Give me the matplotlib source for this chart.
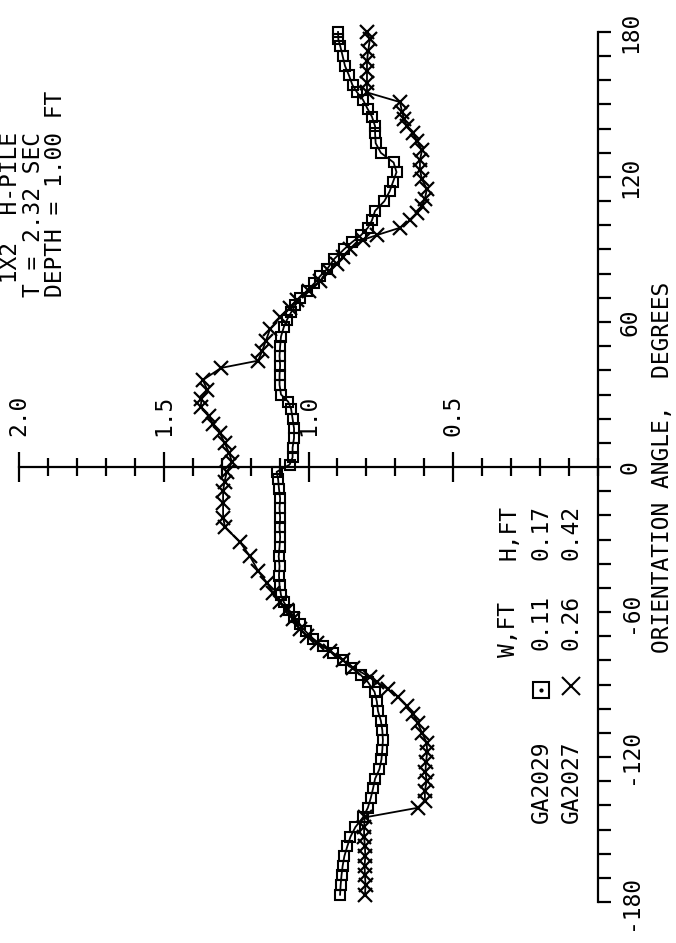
# -*- coding: utf-8 -*-
"""
1X2 H-PILE 方向角曲线复绘
原图整体逆时针旋转 90 度: 横向为数值 (2.0 在左, 0 在右), 纵向为方向角
"""

import matplotlib
matplotlib.use('Agg')
import matplotlib.pyplot as plt
from matplotlib.ticker import FixedLocator, MultipleLocator

plt.rcParams['font.family'] = ['DejaVu Sans Mono']

# GA2029 (方框)
angle_2029 = [-177, -173, -169, -165, -161, -157, -153, -149, -145, -141,
              -137, -133, -129, -125, -121, -117, -113, -109, -105, -101,
              -97, -93, -89, -86, -83, -80, -77, -74, -71, -68,
              -65, -62, -59, -56, -53, -49, -45, -41, -37, -33,
              -29, -25, -21, -17, -13, -9, -5, -2, 1, 4,
              8, 12, 16, 20, 24, 27, 30, 34, 38, 42,
              46, 50, 54, 58, 61, 64, 67, 70, 73, 76,
              79, 82, 86, 90, 93, 96, 99, 102, 106, 110,
              114, 118, 122, 126, 130, 134, 138, 141, 145, 148,
              152, 155, 158, 162, 166, 170, 174, 177, 180]
value_2029 = [0.891, 0.889, 0.886, 0.882, 0.876, 0.866, 0.855, 0.838, 0.812, 0.795,
              0.785, 0.777, 0.770, 0.755, 0.748, 0.745, 0.743, 0.745, 0.750, 0.760,
              0.764, 0.772, 0.795, 0.820, 0.852, 0.881, 0.915, 0.950, 0.985, 1.010,
              1.030, 1.050, 1.068, 1.085, 1.095, 1.100, 1.102, 1.100, 1.103, 1.100,
              1.098, 1.100, 1.098, 1.100, 1.098, 1.102, 1.105, 1.110, 1.065, 1.055,
              1.055, 1.050, 1.050, 1.055, 1.060, 1.070, 1.095, 1.100, 1.100, 1.098,
              1.100, 1.098, 1.095, 1.085, 1.074, 1.060, 1.045, 1.030, 1.005, 0.980,
              0.960, 0.935, 0.912, 0.878, 0.850, 0.818, 0.795, 0.781, 0.770, 0.738,
              0.720, 0.708, 0.696, 0.706, 0.750, 0.768, 0.770, 0.770, 0.781, 0.795,
              0.812, 0.832, 0.848, 0.860, 0.874, 0.882, 0.890, 0.897, 0.898]

# GA2027 (叉号)
angle_2027 = [-177, -173, -169, -165, -161, -157, -153, -149, -145, -141,
              -138, -134, -130, -126, -122, -118, -114, -110, -106, -102,
              -99, -95, -92, -89, -87, -83, -80, -76, -73, -70,
              -67, -63, -59, -56, -52, -48, -43, -37, -31, -25,
              -21, -15, -10, -6, -2, 2, 6, 10, 14, 18,
              21, 25, 28, 32, 36, 41, 44, 48, 52, 57,
              62, 66, 69, 73, 77, 81, 84, 87, 90, 94,
              96, 99, 102, 105, 108, 111, 115, 119, 123, 127,
              131, 135, 138, 141, 144, 147, 151, 155, 159, 164,
              168, 172, 177, 180]
value_2027 = [0.805, 0.803, 0.805, 0.806, 0.804, 0.805, 0.808, 0.808, 0.806, 0.622,
              0.598, 0.598, 0.592, 0.596, 0.594, 0.590, 0.592, 0.608, 0.622, 0.640,
              0.660, 0.691, 0.725, 0.763, 0.788, 0.846, 0.881, 0.926, 0.971, 1.005,
              1.030, 1.053, 1.074, 1.098, 1.123, 1.143, 1.174, 1.202, 1.237, 1.288,
              1.295, 1.295, 1.295, 1.290, 1.282, 1.264, 1.275, 1.290, 1.306, 1.330,
              1.345, 1.372, 1.370, 1.350, 1.365, 1.302, 1.174, 1.160, 1.148, 1.133,
              1.098, 1.064, 1.040, 1.000, 0.960, 0.930, 0.902, 0.880, 0.857, 0.812,
              0.763, 0.684, 0.650, 0.625, 0.608, 0.598, 0.591, 0.608, 0.615, 0.615,
              0.608, 0.625, 0.639, 0.660, 0.670, 0.677, 0.684, 0.798, 0.798, 0.798,
              0.798, 0.794, 0.788, 0.798]

# 坐标轴刻度
value_ticks = [2.0, 1.5, 1.0, 0.5]
value_labels = ['2.0', '1.5', '1.0', '0.5']
angle_ticks = [-180, -120, -60, 0, 60, 120, 180]
angle_labels = ['-180', '-120', '-60', '0', '60', '120', '180']

# 文字
title_lines = [' 1X2  H-PILE', 'T = 2.32 SEC', 'DEPTH = 1.00 FT']
angle_title = 'ORIENTATION ANGLE,  DEGREES'
legend_header = ['W,FT', 'H,FT']
legend_names = ['GA2029', 'GA2027']
legend_w = ['0.11', '0.26']
legend_h = ['0.17', '0.42']

W, H = 676, 943
FS = 16.5


def fx(x):
    return x / W


def fy(y):
    return 1 - y / H


fig = plt.figure(figsize=(W / 100, H / 100), dpi=100)
fig.patch.set_facecolor('white')

# 绘图区: 左端 2.0 (x=19px), 右端 0 (x=598px); 底部 -180 (y=902px), 顶部 180 (y=32px)
ax = fig.add_axes([fx(19), fy(902), (598 - 19) / W, (902 - 32) / H])
ax.patch.set_visible(False)
ax.set_xlim(2.0, 0.0)
ax.set_ylim(-180, 180)

# 数据曲线
ax.plot(value_2029, angle_2029, color='black', lw=1.3, marker='s', ms=7.5,
        mfc='none', mec='black', mew=1.5, clip_on=False)
ax.plot(value_2027, angle_2027, color='black', lw=1.3, marker='x', ms=9.5,
        mew=1.6, clip_on=False)

# 坐标轴: 数值轴位于角度 0 处, 角度轴位于数值 0 处
ax.spines['left'].set_visible(False)
ax.spines['bottom'].set_visible(False)
ax.spines['top'].set_position(('data', 0))
ax.spines['top'].set_linewidth(1.6)
ax.spines['right'].set_linewidth(1.6)

ax.xaxis.tick_top()
ax.xaxis.set_major_locator(FixedLocator(value_ticks))
ax.xaxis.set_minor_locator(MultipleLocator(0.1))
ax.set_xticklabels(value_labels)
ax.tick_params(axis='x', which='major', direction='inout', length=22, width=1.6,
               pad=11, labelsize=FS, labelrotation=90)
ax.tick_params(axis='x', which='minor', direction='inout', length=13, width=1.6)

ax.yaxis.tick_right()
ax.yaxis.set_major_locator(FixedLocator(angle_ticks))
ax.yaxis.set_minor_locator(MultipleLocator(10))
ax.set_yticklabels(angle_labels)
ax.tick_params(axis='y', which='both', direction='out', length=9, width=1.6)
ax.tick_params(axis='y', which='major', pad=6, labelsize=FS, labelrotation=90)
for lab in ax.get_yticklabels():
    lab.set_va('center')
for lab in ax.get_xticklabels():
    lab.set_ha('center')
    lab.set_va('bottom')

fig.text(fx(662), fy(467), angle_title, rotation=90, ha='center', va='center',
         fontsize=FS)

# 标题 (三行)
for i, line in enumerate(title_lines):
    fig.text(fx(11 + 22.5 * i), fy(297), line, rotation=90, ha='center',
             va='bottom', fontsize=FS)

# 图例
fig.text(fx(509), fy(657), legend_header[0], rotation=90, ha='center', va='bottom', fontsize=FS)
fig.text(fx(509), fy(560), legend_header[1], rotation=90, ha='center', va='bottom', fontsize=FS)
markers = ['s', 'x']
for i, name in enumerate(legend_names):
    xc = 541 + 30 * i
    fig.text(fx(xc), fy(823), name, rotation=90, ha='center', va='bottom', fontsize=FS)
    fig.text(fx(xc), fy(650), legend_w[i], rotation=90, ha='center', va='bottom', fontsize=FS)
    fig.text(fx(xc), fy(560), legend_h[i], rotation=90, ha='center', va='bottom', fontsize=FS)
    if markers[i] == 's':
        ax.plot([fx(xc)], [fy(690)], transform=fig.transFigure, marker='s', ms=11,
                mfc='none', mec='black', mew=1.5, clip_on=False)
        ax.plot([fx(xc)], [fy(690)], transform=fig.transFigure, marker='.', ms=4,
                color='black', clip_on=False)
    else:
        ax.plot([fx(xc)], [fy(686)], transform=fig.transFigure, marker='x', ms=13,
                color='black', mew=1.5, clip_on=False)

fig.savefig('out.png', dpi=100)
plt.close(fig)
